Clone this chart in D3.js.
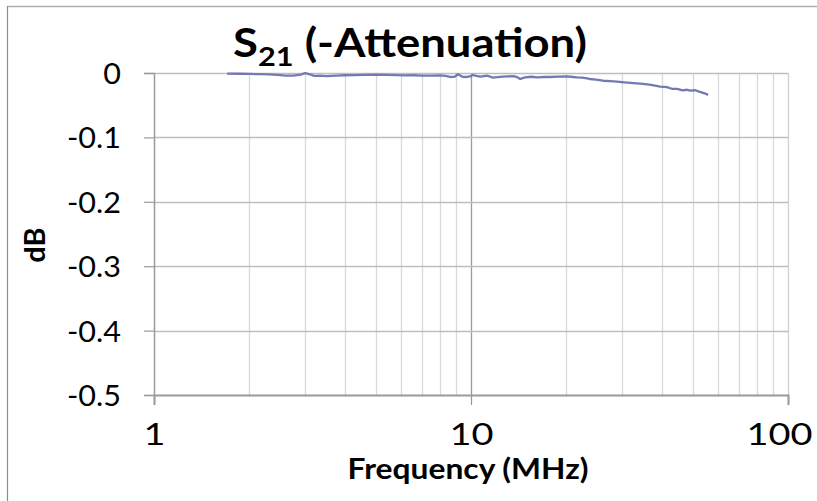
<!DOCTYPE html>
<html>
<head>
<meta charset="utf-8">
<script src="https://cdn.jsdelivr.net/npm/d3@7"></script>
<style>
  html, body { margin: 0; padding: 0; background: #fff; }
  svg { display: block; }
</style>
</head>
<body>
<svg id="chart" width="817" height="501"></svg>
<script>
// ---- data ----
const freqMHz = [1.7, 1.85, 2.0, 2.15, 2.3, 2.45, 2.6, 2.75, 2.9, 3.0, 3.1, 3.2, 3.35, 3.5, 3.75, 4.0, 4.3, 4.6, 5.0, 5.4, 5.8, 6.2, 6.6, 7.0, 7.5, 8.0, 8.3, 8.6, 8.9, 9.1, 9.4, 9.7, 10.0, 10.1, 10.4, 10.7, 11.0, 11.2, 11.5, 11.7, 12.1, 12.6, 13.1, 13.6, 14.0, 14.3, 14.8, 15.5, 16.2, 17.0, 17.7, 18.8, 20.1, 21.0, 21.6, 22.5, 23.7, 24.8, 26.1, 27.5, 28.9, 30.5, 32.5, 34.9, 37.0, 39.5, 41.5, 43.0, 44.7, 46.5, 48.0, 49.1, 51.0, 52.5, 54.5, 56.0];
const s21dB   = [-0.001, -0.0012, -0.0015, -0.0018, -0.002, -0.003, -0.0042, -0.004, -0.0025, -0.0003, -0.002, -0.0045, -0.0042, -0.0048, -0.004, -0.0035, -0.0032, -0.003, -0.0026, -0.0028, -0.0033, -0.0036, -0.0035, -0.0042, -0.004, -0.0038, -0.0045, -0.0062, -0.0055, -0.002, -0.0058, -0.0062, -0.0048, -0.0031, -0.0045, -0.0057, -0.0048, -0.0042, -0.0055, -0.0073, -0.0065, -0.0057, -0.0052, -0.0047, -0.0065, -0.0093, -0.0067, -0.0058, -0.0067, -0.0062, -0.0062, -0.0055, -0.0051, -0.0062, -0.0067, -0.0072, -0.0093, -0.0102, -0.012, -0.0125, -0.0135, -0.0145, -0.0158, -0.017, -0.0185, -0.0213, -0.022, -0.0245, -0.0245, -0.027, -0.026, -0.0275, -0.0268, -0.029, -0.0315, -0.034];
const yTicks = [0, -0.1, -0.2, -0.3, -0.4, -0.5];
const xTicks = [1, 10, 100];
const xMinor = [2, 3, 4, 5, 6, 7, 8, 9, 20, 30, 40, 50, 60, 70, 80, 90];

// ---- layout ----
const svg = d3.select("#chart");
const pL = 154, pR = 788, pT = 73, pB = 395;
const FONT = "Lato, 'Open Sans', 'DejaVu Sans', sans-serif";

const x = d3.scaleLog().domain([1, 100]).range([pL, pR]);
const y = d3.scaleLinear().domain([-0.5, 0]).range([pB, pT]);

// horizontal fit: scale a text element around an anchor x so that its width is targetW
function fitX(node, targetW, ax) {
  const w = node.getBBox().width;
  const s = targetW / w;
  node.setAttribute("transform", `translate(${ax},0) scale(${s},1) translate(${-ax},0)`);
  return s;
}

// outer chart border (top and left visible)
svg.append("line").attr("x1", 7).attr("x2", 817).attr("y1", 6.5).attr("y2", 6.5)
  .attr("stroke", "#b0b0b0").attr("stroke-width", 1.5);
svg.append("line").attr("x1", 7.5).attr("x2", 7.5).attr("y1", 6).attr("y2", 501)
  .attr("stroke", "#8c8c8c").attr("stroke-width", 1.2);

// minor vertical gridlines
svg.append("g").selectAll("line").data(xMinor).join("line")
  .attr("x1", d => Math.round(x(d)) + 0.5).attr("x2", d => Math.round(x(d)) + 0.5)
  .attr("y1", pT).attr("y2", pB)
  .attr("stroke", "#d9d9d9").attr("stroke-width", 1.3);

// major vertical gridlines (10, 100)
svg.append("g").selectAll("line").data(xTicks.slice(1)).join("line")
  .attr("x1", d => Math.round(x(d)) + 0.5).attr("x2", d => Math.round(x(d)) + 0.5)
  .attr("y1", pT).attr("y2", pB)
  .attr("stroke", d => d === 10 ? "#9a9a9a" : "#d0d0d0").attr("stroke-width", 1.3);

// horizontal gridlines
svg.append("g").selectAll("line").data(yTicks.filter(d => d !== -0.5)).join("line")
  .attr("x1", pL).attr("x2", pR)
  .attr("y1", d => Math.round(y(d)) + 0.5).attr("y2", d => Math.round(y(d)) + 0.5)
  .attr("stroke", "#bebebe").attr("stroke-width", 1.3);

// y axis
const yAxis = d3.axisLeft(y).tickValues(yTicks).tickSize(10).tickPadding(23)
  .tickFormat(d => d === 0 ? "0" : d3.format(".1f")(d).replace("−", "-"));
const gy = svg.append("g").attr("transform", `translate(${pL},0)`).call(yAxis);
gy.select(".domain").attr("stroke", "#9a9a9a").attr("stroke-width", 1.5);
gy.selectAll(".tick line").attr("stroke", "#9a9a9a").attr("stroke-width", 1.2);
gy.selectAll("text").attr("font-family", FONT).attr("font-size", 29).attr("fill", "#000")
  .attr("dy", "0.36em");
{
  const ref = gy.selectAll("text").filter(d => d === -0.1).node();
  const s = 54 / ref.getBBox().width;
  gy.selectAll("text").each(function () {
    const ax = +this.getAttribute("x");
    this.setAttribute("transform", `translate(${ax},0) scale(${s},1) translate(${-ax},0)`);
  });
}

// x axis
const xAxis = d3.axisBottom(x).tickValues(xTicks).tickSize(10).tickPadding(19)
  .tickFormat(d3.format("d"));
const gx = svg.append("g").attr("transform", `translate(0,${pB})`).call(xAxis);
gx.select(".domain").attr("stroke", "#9a9a9a").attr("stroke-width", 2);
gx.selectAll(".tick line").attr("stroke", "#9a9a9a").attr("stroke-width", 1.2);
gx.selectAll("text").attr("font-family", FONT).attr("font-size", 30).attr("fill", "#000");
{
  const ref = gx.selectAll("text").filter(d => d === 10).node();
  const s = 44 / ref.getBBox().width;
  gx.selectAll("text").each(function (d) {
    const half = this.getBBox().width * s / 2;
    const over = Math.max(0, x(d) + half - 812);
    this.setAttribute("transform", `translate(${-over},0) scale(${s},1)`);
  });
}

// data line
const pts = freqMHz.map((f, i) => [f, s21dB[i]]);
svg.append("path").datum(pts)
  .attr("fill", "none").attr("stroke", "#7579b3").attr("stroke-width", 2.3)
  .attr("stroke-linejoin", "round")
  .attr("d", d3.line().x(d => x(d[0])).y(d => y(d[1])));

// title
const title = svg.append("text").attr("x", 410).attr("y", 57)
  .attr("text-anchor", "middle").attr("font-family", FONT)
  .attr("font-weight", "bold").attr("font-size", 40).attr("fill", "#000");
title.append("tspan").text("S");
title.append("tspan").attr("font-size", 27).attr("dy", 9).text("21");
title.append("tspan").attr("dy", -9).text(" (-Attenuation)");
fitX(title.node(), 354, 410);

// axis titles
const xt = svg.append("text").attr("x", 468).attr("y", 479).attr("text-anchor", "middle")
  .attr("font-family", FONT).attr("font-weight", "bold").attr("font-size", 28)
  .attr("fill", "#000").text("Frequency (MHz)");
fitX(xt.node(), 241, 468);
svg.append("text").attr("transform", "translate(45,245) rotate(-90)")
  .attr("text-anchor", "middle").attr("font-family", FONT).attr("font-weight", "bold")
  .attr("font-size", 29).attr("fill", "#000").text("dB");
</script>
</body>
</html>
